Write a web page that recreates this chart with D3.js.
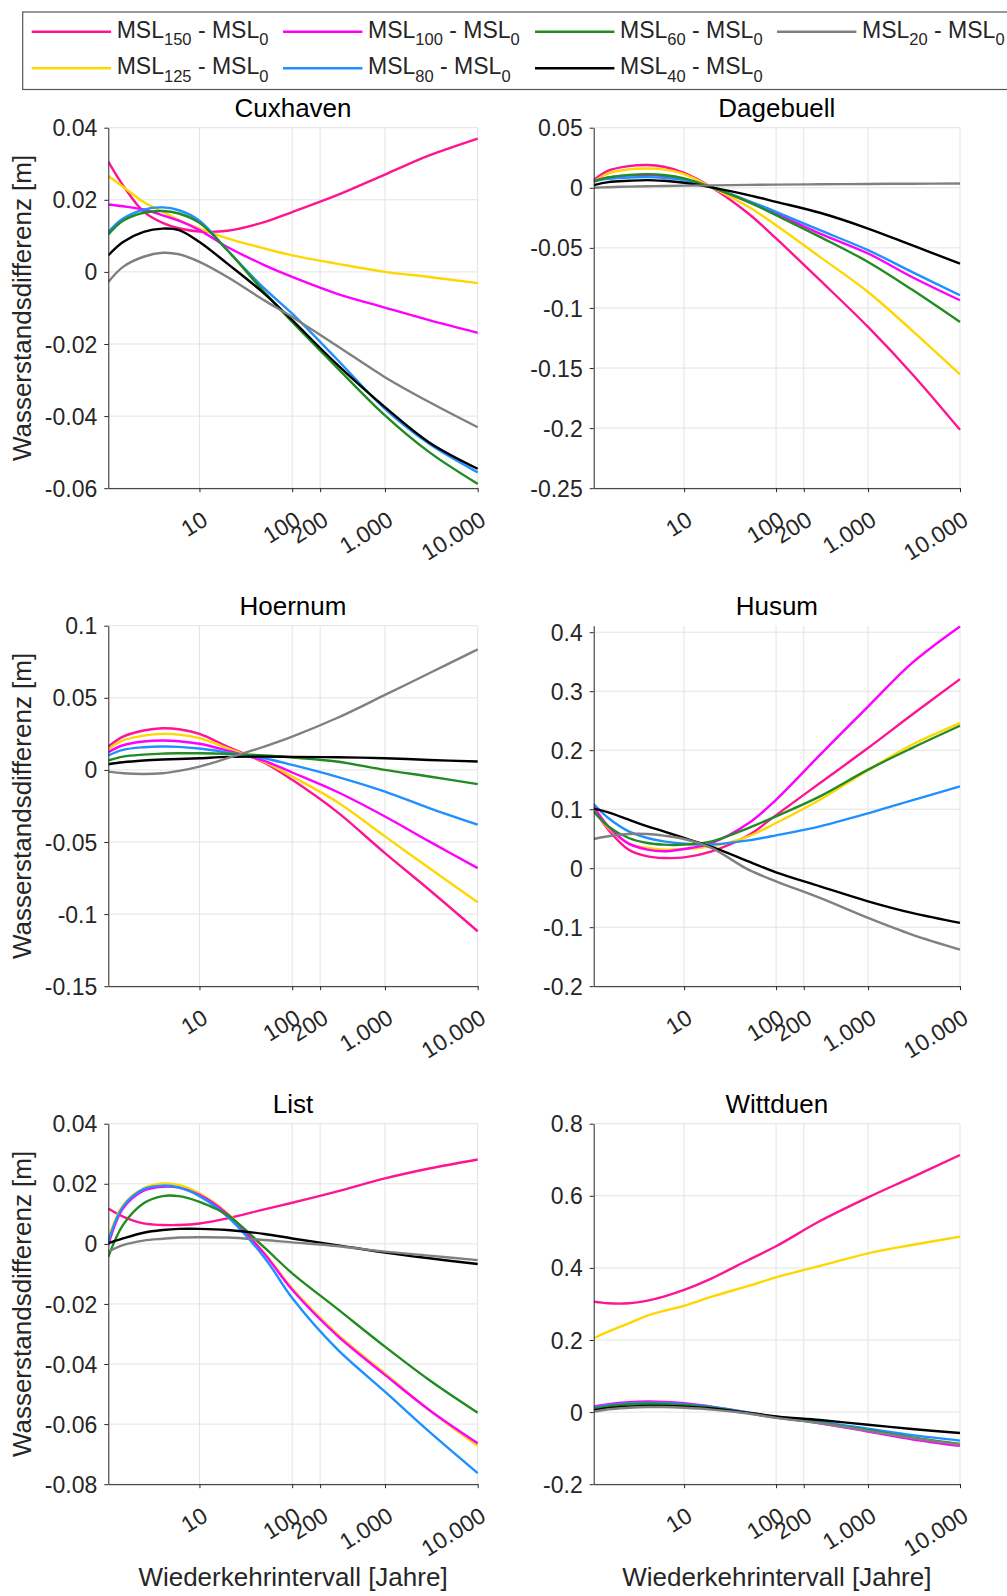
<!DOCTYPE html>
<html>
<head>
<meta charset="utf-8">
<script src="https://cdn.jsdelivr.net/npm/d3@7"></script>
<style>
    body { margin: 0; background: #fff; }
    svg { display: block; font-family: "Liberation Sans", Arial, sans-serif; }
    text { white-space: pre; }
</style>
</head>
<body>
<div id="chart"></div>
<script>
// 重现期（年），所有曲线共用的采样点
const returnPeriods = [1.04, 1.5, 2.5, 4, 6, 10, 20, 50, 100, 300, 1000, 3000, 10000];

// 系列下标与颜色（绘制顺序 = 图例顺序）
const seriesKeys = ["150", "125", "100", "80", "60", "40", "20"];
const seriesColors = ["#ff1493", "#ffd700", "#ff00ff", "#1e90ff", "#228b22", "#000000", "#808080"];

// x 轴刻度
const xTickValues = [10, 100, 200, 1000, 10000];
const xTickLabels = ["10", "100", "200", "1.000", "10.000"];

// 站点名称
const stationNames = ["Cuxhaven", "Dagebuell", "Hoernum", "Husum", "List", "Wittduen"];

// 各站点 y 轴范围和刻度
const yDomains = [[-0.06, 0.04], [-0.25, 0.05], [-0.15, 0.1], [-0.2, 0.411], [-0.08, 0.04], [-0.2, 0.8]];
const yTickValues = [
    [-0.06, -0.04, -0.02, 0, 0.02, 0.04],
    [-0.25, -0.2, -0.15, -0.1, -0.05, 0, 0.05],
    [-0.15, -0.1, -0.05, 0, 0.05, 0.1],
    [-0.2, -0.1, 0, 0.1, 0.2, 0.3, 0.4],
    [-0.08, -0.06, -0.04, -0.02, 0, 0.02, 0.04],
    [-0.2, 0, 0.2, 0.4, 0.6, 0.8]
];
const yTickLabels = [
    ["-0.06", "-0.04", "-0.02", "0", "0.02", "0.04"],
    ["-0.25", "-0.2", "-0.15", "-0.1", "-0.05", "0", "0.05"],
    ["-0.15", "-0.1", "-0.05", "0", "0.05", "0.1"],
    ["-0.2", "-0.1", "0", "0.1", "0.2", "0.3", "0.4"],
    ["-0.08", "-0.06", "-0.04", "-0.02", "0", "0.02", "0.04"],
    ["-0.2", "0", "0.2", "0.4", "0.6", "0.8"]
];

// 水位差 [m]，每行一个系列（顺序同 seriesKeys）
const cuxhaven = [
    [0.0306, 0.0240, 0.0167, 0.0136, 0.0121, 0.0112, 0.0114, 0.0138, 0.0166, 0.0212, 0.0270, 0.0323, 0.0370],
    [0.0266, 0.0236, 0.0194, 0.0167, 0.0144, 0.0120, 0.0093, 0.0065, 0.0046, 0.0023, 0.0000, -0.0014, -0.0031],
    [0.0187, 0.0182, 0.0173, 0.0157, 0.0142, 0.0116, 0.0069, 0.0019, -0.0014, -0.0060, -0.0099, -0.0134, -0.0169],
    [0.0111, 0.0148, 0.0173, 0.0179, 0.0171, 0.0142, 0.0060, -0.0046, -0.0116, -0.0241, -0.0380, -0.0477, -0.0556],
    [0.0104, 0.0142, 0.0164, 0.0169, 0.0162, 0.0136, 0.0060, -0.0056, -0.0139, -0.0264, -0.0398, -0.0500, -0.0588],
    [0.0046, 0.0083, 0.0111, 0.0120, 0.0116, 0.0083, 0.0023, -0.0060, -0.0134, -0.0255, -0.0375, -0.0473, -0.0546],
    [-0.0028, 0.0014, 0.0042, 0.0053, 0.0049, 0.0028, -0.0014, -0.0079, -0.0125, -0.0204, -0.0292, -0.0361, -0.0431]
];
const dagebuell = [
    [0.0064, 0.0142, 0.0180, 0.0189, 0.0175, 0.0125, 0.0003, -0.0214, -0.0422, -0.0769, -0.1158, -0.1547, -0.2014],
    [0.0050, 0.0120, 0.0153, 0.0161, 0.0153, 0.0114, 0.0003, -0.0158, -0.0311, -0.0575, -0.0867, -0.1186, -0.1553],
    [0.0058, 0.0086, 0.0103, 0.0106, 0.0097, 0.0069, 0.0003, -0.0117, -0.0214, -0.0381, -0.0547, -0.0742, -0.0936],
    [0.0056, 0.0075, 0.0086, 0.0089, 0.0083, 0.0064, 0.0003, -0.0108, -0.0200, -0.0353, -0.0519, -0.0700, -0.0894],
    [0.0050, 0.0086, 0.0106, 0.0114, 0.0106, 0.0078, 0.0003, -0.0117, -0.0228, -0.0408, -0.0617, -0.0847, -0.1117],
    [0.0022, 0.0047, 0.0058, 0.0064, 0.0058, 0.0042, 0.0003, -0.0061, -0.0117, -0.0208, -0.0339, -0.0478, -0.0631],
    [0.0000, 0.0005, 0.0010, 0.0013, 0.0015, 0.0018, 0.0020, 0.0024, 0.0026, 0.0029, 0.0032, 0.0034, 0.0036]
];
const hoernum = [
    [0.0162, 0.0231, 0.0273, 0.0289, 0.0282, 0.0250, 0.0162, 0.0050, -0.0069, -0.0288, -0.0577, -0.0831, -0.1119],
    [0.0144, 0.0204, 0.0238, 0.0250, 0.0245, 0.0220, 0.0151, 0.0055, -0.0046, -0.0219, -0.0461, -0.0681, -0.0918],
    [0.0123, 0.0171, 0.0197, 0.0204, 0.0199, 0.0181, 0.0134, 0.0062, -0.0018, -0.0150, -0.0323, -0.0496, -0.0681],
    [0.0100, 0.0139, 0.0157, 0.0162, 0.0160, 0.0148, 0.0121, 0.0081, 0.0035, -0.0046, -0.0150, -0.0265, -0.0380],
    [0.0065, 0.0092, 0.0106, 0.0113, 0.0115, 0.0115, 0.0111, 0.0100, 0.0086, 0.0058, 0.0000, -0.0046, -0.0099],
    [0.0039, 0.0053, 0.0065, 0.0072, 0.0076, 0.0081, 0.0090, 0.0092, 0.0090, 0.0088, 0.0081, 0.0069, 0.0058],
    [-0.0012, -0.0023, -0.0028, -0.0023, -0.0007, 0.0023, 0.0081, 0.0162, 0.0231, 0.0358, 0.0520, 0.0670, 0.0836]
];
const husum = [
    [0.1020, 0.0653, 0.0314, 0.0201, 0.0173, 0.0184, 0.0286, 0.0557, 0.0900, 0.1443, 0.2036, 0.2600, 0.3204],
    [0.0992, 0.0681, 0.0416, 0.0342, 0.0314, 0.0326, 0.0371, 0.0540, 0.0766, 0.1161, 0.1660, 0.2092, 0.2459],
    [0.1048, 0.0709, 0.0416, 0.0314, 0.0286, 0.0326, 0.0427, 0.0760, 0.1160, 0.1920, 0.2740, 0.3475, 0.4096],
    [0.1088, 0.0851, 0.0625, 0.0512, 0.0455, 0.0416, 0.0399, 0.0472, 0.0557, 0.0710, 0.0930, 0.1150, 0.1387],
    [0.0963, 0.0709, 0.0512, 0.0427, 0.0399, 0.0399, 0.0455, 0.0681, 0.0879, 0.1217, 0.1670, 0.2036, 0.2414],
    [0.1009, 0.0946, 0.0822, 0.0709, 0.0625, 0.0512, 0.0360, 0.0116, -0.0070, -0.0307, -0.0561, -0.0758, -0.0927],
    [0.0495, 0.0541, 0.0580, 0.0580, 0.0552, 0.0495, 0.0340, -0.0025, -0.0222, -0.0504, -0.0843, -0.1125, -0.1379]
];
const list = [
    [0.0118, 0.0091, 0.0068, 0.0063, 0.0063, 0.0068, 0.0085, 0.0115, 0.0137, 0.0174, 0.0218, 0.0251, 0.0281],
    [0.0018, 0.0129, 0.0185, 0.0201, 0.0196, 0.0168, 0.0102, -0.0030, -0.0148, -0.0298, -0.0431, -0.0553, -0.0672],
    [-0.0004, 0.0118, 0.0177, 0.0190, 0.0187, 0.0163, 0.0099, -0.0033, -0.0153, -0.0303, -0.0436, -0.0553, -0.0664],
    [0.0007, 0.0124, 0.0182, 0.0194, 0.0188, 0.0159, 0.0091, -0.0045, -0.0180, -0.0348, -0.0492, -0.0625, -0.0763],
    [-0.0043, 0.0063, 0.0135, 0.0159, 0.0159, 0.0140, 0.0096, -0.0012, -0.0098, -0.0214, -0.0342, -0.0453, -0.0562],
    [0.0002, 0.0018, 0.0037, 0.0046, 0.0050, 0.0050, 0.0046, 0.0033, 0.0018, -0.0004, -0.0029, -0.0048, -0.0067],
    [-0.0026, -0.0004, 0.0011, 0.0017, 0.0021, 0.0022, 0.0021, 0.0013, 0.0005, -0.0007, -0.0026, -0.0039, -0.0054]
];
const wittduen = [
    [0.3065, 0.3018, 0.3018, 0.3093, 0.3203, 0.3388, 0.3711, 0.4220, 0.4600, 0.5300, 0.5957, 0.6512, 0.7131],
    [0.2048, 0.2233, 0.2464, 0.2677, 0.2806, 0.2950, 0.3203, 0.3499, 0.3739, 0.4054, 0.4405, 0.4636, 0.4867],
    [0.0153, 0.0218, 0.0273, 0.0292, 0.0283, 0.0246, 0.0153, -0.0013, -0.0142, -0.0309, -0.0540, -0.0752, -0.0937],
    [0.0120, 0.0190, 0.0240, 0.0260, 0.0250, 0.0220, 0.0140, -0.0010, -0.0130, -0.0270, -0.0460, -0.0640, -0.0790],
    [0.0090, 0.0160, 0.0210, 0.0230, 0.0220, 0.0190, 0.0120, -0.0030, -0.0150, -0.0300, -0.0500, -0.0700, -0.0880],
    [0.0050, 0.0110, 0.0150, 0.0170, 0.0170, 0.0150, 0.0100, -0.0020, -0.0120, -0.0220, -0.0350, -0.0470, -0.0580],
    [0.0010, 0.0080, 0.0120, 0.0140, 0.0140, 0.0120, 0.0070, -0.0040, -0.0160, -0.0310, -0.0520, -0.0720, -0.0900]
];
const stationData = [cuxhaven, dagebuell, hoernum, husum, list, wittduen];

// 图表视图
const ChartView = {
    svg: null,
    width: 1007,
    height: 1596,
    // 子图布局
    colLeft: [108.3, 593.7],
    colWidth: [369.4, 366.3],
    rowTop: [127.7, 625.7, 1123.7],
    plotHeight: 360.5,
    axisColor: "#262626",
    gridColor: "#e3e3e3",
    tickFont: 23,
    labelFont: 26,
    lineWidth: 2.4,

    // 初始化
    init() {
        d3.select("#chart").selectAll("*").remove();

        this.svg = d3.select("#chart")
            .append("svg")
            .attr("width", this.width)
            .attr("height", this.height);

        this.drawLegend();

        // 每个站点一个子图
        stationNames.forEach((name, i) => this.drawPanel(i));
    },

    // 图例
    drawLegend() {
        const legend = this.svg.append("g").attr("class", "legend");

        legend.append("rect")
            .attr("x", 22.7)
            .attr("y", 12)
            .attr("width", 1000)
            .attr("height", 77.5)
            .attr("fill", "white")
            .attr("stroke", "#555")
            .attr("stroke-width", 1.2);

        // MATLAB 图例按列排列，两行
        const colX = [31.7, 283, 535, 777];
        const rowY = [31.7, 68.3];

        seriesKeys.forEach((key, i) => {
            const cx = colX[Math.floor(i / 2)];
            const cy = rowY[i % 2];

            legend.append("line")
                .attr("x1", cx)
                .attr("x2", cx + 79.4)
                .attr("y1", cy)
                .attr("y2", cy)
                .attr("stroke", seriesColors[i])
                .attr("stroke-width", this.lineWidth);

            const text = legend.append("text")
                .attr("x", cx + 85)
                .attr("y", cy + 5.8)
                .attr("font-size", this.tickFont + "px")
                .attr("fill", this.axisColor);
            text.append("tspan").text("MSL");
            text.append("tspan").attr("font-size", "16.5px").attr("dy", 7.7).text(key);
            text.append("tspan").attr("dy", -7.7).text(" - MSL");
            text.append("tspan").attr("font-size", "16.5px").attr("dy", 7.7).text("0");
        });
    },

    // 绘制单个子图
    drawPanel(index) {
        const col = index % 2;
        const row = Math.floor(index / 2);
        const left = this.colLeft[col];
        const top = this.rowTop[row];
        const w = this.colWidth[col];
        const h = this.plotHeight;

        const x = d3.scaleLog().domain([returnPeriods[0], 10000]).range([0, w]);
        const y = d3.scaleLinear().domain(yDomains[index]).range([h, 0]);

        const g = this.svg.append("g")
            .attr("class", `panel panel-${index}`)
            .attr("transform", `translate(${left}, ${top})`);

        // 网格
        g.append("g")
            .selectAll("line.vgrid")
            .data(xTickValues)
            .enter()
            .append("line")
            .attr("x1", d => x(d))
            .attr("x2", d => x(d))
            .attr("y1", 0)
            .attr("y2", h)
            .attr("stroke", this.gridColor);

        g.append("g")
            .selectAll("line.hgrid")
            .data(yTickValues[index])
            .enter()
            .append("line")
            .attr("x1", 0)
            .attr("x2", w)
            .attr("y1", d => y(d))
            .attr("y2", d => y(d))
            .attr("stroke", this.gridColor);

        // 裁剪区域
        g.append("clipPath")
            .attr("id", `clip-${index}`)
            .append("rect")
            .attr("x", 0)
            .attr("y", -2)
            .attr("width", w + 2)
            .attr("height", h + 2);

        // 曲线
        const line = d3.line()
            .x((d, i) => x(returnPeriods[i]))
            .y(d => y(d))
            .curve(d3.curveCatmullRom.alpha(0.5));

        g.append("g")
            .attr("clip-path", `url(#clip-${index})`)
            .selectAll("path")
            .data(stationData[index])
            .enter()
            .append("path")
            .attr("d", d => line(d))
            .attr("fill", "none")
            .attr("stroke", (d, i) => seriesColors[i])
            .attr("stroke-width", this.lineWidth);

        // y 轴
        const yAxis = g.append("g")
            .call(d3.axisLeft(y)
                .tickValues(yTickValues[index])
                .tickFormat((d, i) => yTickLabels[index][i])
                .tickSize(4)
                .tickSizeOuter(0));
        yAxis.select(".domain").attr("stroke", this.axisColor);
        yAxis.selectAll(".tick line").attr("stroke", this.axisColor);
        yAxis.selectAll(".tick text")
            .attr("x", -11)
            .attr("dy", "0.35em")
            .attr("font-size", this.tickFont + "px")
            .attr("fill", this.axisColor);

        // x 轴（标签旋转）
        const xAxis = g.append("g")
            .attr("transform", `translate(0, ${h})`)
            .call(d3.axisBottom(x)
                .tickValues(xTickValues)
                .tickFormat((d, i) => xTickLabels[i])
                .tickSize(4)
                .tickSizeOuter(0));
        xAxis.select(".domain").attr("stroke", this.axisColor);
        xAxis.selectAll(".tick line").attr("stroke", this.axisColor);
        xAxis.selectAll(".tick text")
            .attr("x", 0)
            .attr("y", 0)
            .attr("dy", "0.35em")
            .attr("text-anchor", "end")
            .attr("transform", "translate(5, 29) rotate(-32)")
            .attr("font-size", this.tickFont + "px")
            .attr("fill", this.axisColor);
        g.selectAll("g").attr("font-family", null);

        // 标题
        g.append("text")
            .attr("x", w / 2)
            .attr("y", -11)
            .attr("text-anchor", "middle")
            .attr("font-size", this.labelFont + "px")
            .attr("fill", "#000")
            .text(stationNames[index]);

        // y 轴标题，仅左列
        if (col === 0) {
            g.append("text")
                .attr("transform", `translate(${21.7 - left + 9}, ${h / 2}) rotate(-90)`)
                .attr("text-anchor", "middle")
                .attr("font-size", this.labelFont + "px")
                .attr("fill", this.axisColor)
                .text("Wasserstandsdifferenz [m]");
        }

        // x 轴标题，仅最后一行
        if (row === 2) {
            g.append("text")
                .attr("x", w / 2)
                .attr("y", 1586 - top)
                .attr("text-anchor", "middle")
                .attr("font-size", this.labelFont + "px")
                .attr("fill", this.axisColor)
                .text("Wiederkehrintervall [Jahre]");
        }
    }
};

ChartView.init();
</script>
</body>
</html>
